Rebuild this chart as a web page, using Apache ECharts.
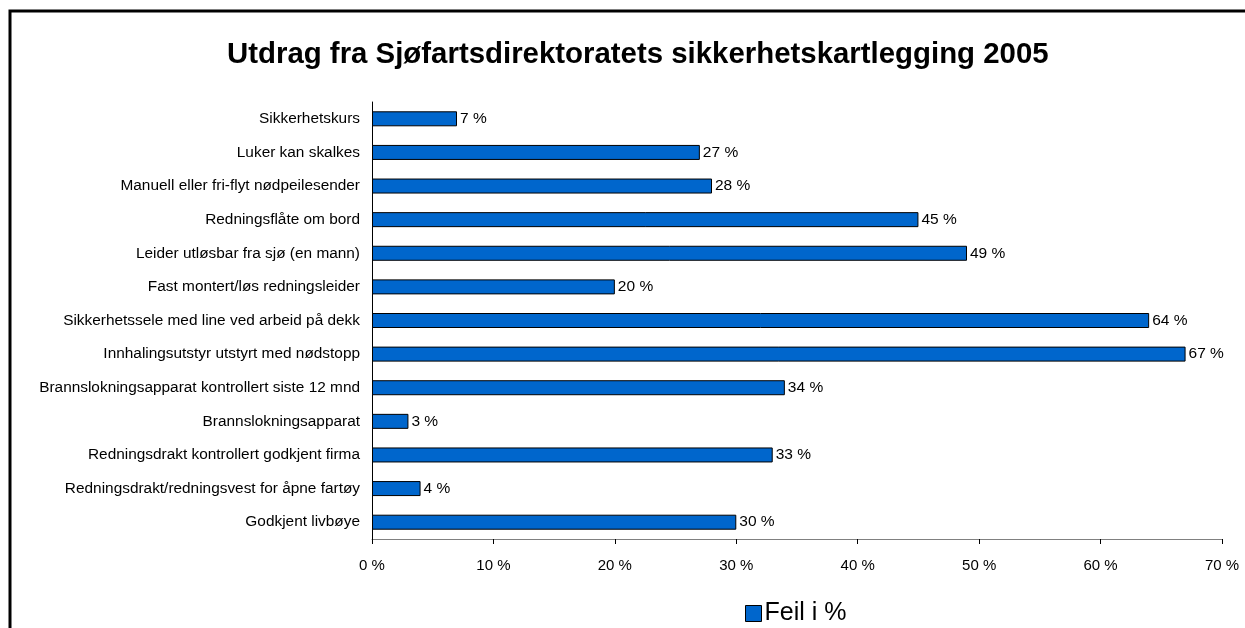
<!DOCTYPE html>
<html>
<head>
<meta charset="utf-8">
<script src="https://cdn.jsdelivr.net/npm/echarts@6/dist/echarts.min.js"></script>
<style>
  html, body { margin: 0; padding: 0; background: #fff; }
  #chart { width: 1245px; height: 628px; }
</style>
</head>
<body>
<div id="chart"></div>
<script>
// categories, top to bottom as in the picture
const categories = [
  "Sikkerhetskurs",
  "Luker kan skalkes",
  "Manuell eller fri-flyt nødpeilesender",
  "Redningsflåte om bord",
  "Leider utløsbar fra sjø (en mann)",
  "Fast montert/løs redningsleider",
  "Sikkerhetssele med line ved arbeid på dekk",
  "Innhalingsutstyr utstyrt med nødstopp",
  "Brannslokningsapparat kontrollert siste 12 mnd",
  "Brannslokningsapparat",
  "Redningsdrakt kontrollert godkjent firma",
  "Redningsdrakt/redningsvest for åpne fartøy",
  "Godkjent livbøye"
];
const feil = [7, 27, 28, 45, 49, 20, 64, 67, 34, 3, 33, 4, 30];
const xTicks = [0, 10, 20, 30, 40, 50, 60, 70];

const font = "Liberation Sans, Arial, sans-serif";
const chart = echarts.init(document.getElementById("chart"));

chart.setOption({
  animation: false,
  graphic: [{
    type: "rect",
    shape: { x: 10, y: 11, width: 1260, height: 640 },
    style: { fill: "none", stroke: "#000", lineWidth: 3 }
  }],
  title: {
    text: "Utdrag fra Sjøfartsdirektoratets sikkerhetskartlegging 2005",
    left: 222,
    top: 35,
    textStyle: { fontFamily: font, fontSize: 29.4, fontWeight: "bold", color: "#000" }
  },
  legend: {
    data: ["Feil i %"],
    icon: "rect",
    top: 596,
    left: 740,
    itemWidth: 16,
    itemHeight: 16,
    itemGap: 6,
    itemStyle: { borderColor: "#000", borderWidth: 1 },
    textStyle: { fontFamily: font, fontSize: 25, color: "#000", padding: [0, 0, 0, -2] }
  },
  grid: { left: 372, right: 23, top: 102, bottom: 89 },
  xAxis: {
    type: "value",
    min: xTicks[0],
    max: xTicks[xTicks.length - 1],
    interval: 10,
    axisLine: { show: true, lineStyle: { color: "#808080", width: 1 } },
    axisTick: { show: true, length: 5, lineStyle: { color: "#000" } },
    splitLine: { show: false },
    axisLabel: {
      margin: 19,
      fontFamily: font, fontSize: 15, color: "#000",
      formatter: v => v + " %"
    }
  },
  yAxis: {
    type: "category",
    inverse: true,
    data: categories,
    axisLine: { show: true, lineStyle: { color: "#000", width: 1 } },
    axisTick: { show: false },
    axisLabel: { margin: 12, fontFamily: font, fontSize: 15.4, color: "#000" }
  },
  series: [{
    name: "Feil i %",
    type: "bar",
    data: feil,
    barWidth: 15,
    itemStyle: { color: "#0066CC", borderColor: "#000", borderWidth: 1 },
    label: {
      show: true,
      position: "right",
      distance: 3,
      fontFamily: font, fontSize: 15.5, color: "#000",
      formatter: p => p.value + " %"
    }
  }]
});
</script>
</body>
</html>
